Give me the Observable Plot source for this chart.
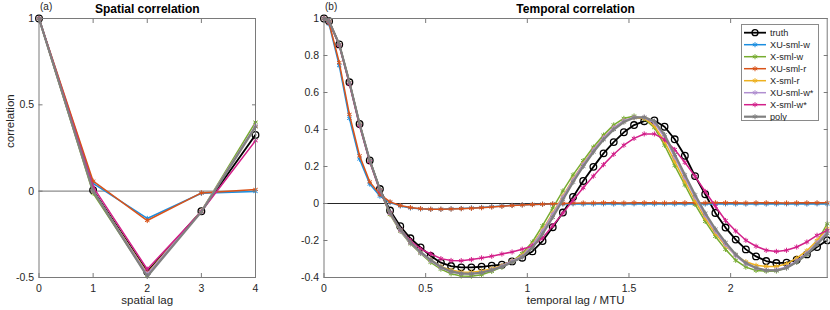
<!DOCTYPE html>
<html><head><meta charset="utf-8">
<script src="https://cdn.jsdelivr.net/npm/d3@7"></script>
<script src="https://cdn.jsdelivr.net/npm/@observablehq/plot@0.6"></script>
<style>
body{margin:0;background:#fff;font-family:"Liberation Sans",Arial,Helvetica,sans-serif;}
#wrap{position:relative;width:830px;height:310px;overflow:hidden;background:#fff}
.panel{position:absolute;top:0}
#legend{position:absolute;left:741px;top:24px;width:78px;height:97px;border:1px solid #8a8a8a;background:#fff;box-sizing:border-box}
</style></head><body><div id="wrap"></div>
<script>
const seriesNames = ["truth","XU-sml-w","X-sml-w","XU-sml-r","X-sml-r","XU-sml-w*","X-sml-w*","poly"];
const seriesColors = ["#000000","#1b8ee0","#77ac30","#d95319","#edb120","#b08fd0","#d3208a","#808080"];
const seriesWidths = [1.8,1.5,1.5,1.5,1.5,1.5,1.5,2.2];

// (a) spatial correlation
const spatialLags = [0,1,2,3,4];
const spatialTruth  = [1, 0.006, -0.467, -0.116, 0.326];
const spatialXUsmlw = [1, 0.045, -0.158, -0.012, -0.002];
const spatialXsmlw  = [1, -0.012, -0.49, -0.115, 0.40];
const spatialXUsmlr = [1, 0.058, -0.17, -0.01, 0.01];
const spatialXsmlr  = [1, 0.0, -0.475, -0.115, 0.375];
const spatialXUsmlwStar = [1, 0.0, -0.48, -0.115, 0.38];
const spatialXsmlwStar  = [1, 0.025, -0.452, -0.118, 0.292];
const spatialPoly   = [1, 0.0, -0.494, -0.12, 0.372];

// (b) temporal correlation
const temporalLags = [0, 0.025, 0.075, 0.125, 0.175, 0.225, 0.275, 0.325, 0.375, 0.425,
  0.475, 0.525, 0.575, 0.625, 0.675, 0.725, 0.775, 0.825, 0.875, 0.925,
  0.975, 1.025, 1.075, 1.125, 1.175, 1.225, 1.275, 1.325, 1.375, 1.425,
  1.475, 1.525, 1.575, 1.625, 1.675, 1.725, 1.775, 1.825, 1.875, 1.925,
  1.975, 2.025, 2.075, 2.125, 2.175, 2.225, 2.275, 2.325, 2.375, 2.425,
  2.475];
const temporalTruth = [1.0, 0.985, 0.86, 0.655, 0.43, 0.233, 0.078, -0.038, -0.123, -0.188,
  -0.237, -0.284, -0.32, -0.338, -0.345, -0.345, -0.342, -0.336, -0.331, -0.313,
  -0.293, -0.259, -0.203, -0.128, -0.049, 0.035, 0.122, 0.198, 0.271, 0.332,
  0.385, 0.424, 0.445, 0.449, 0.415, 0.347, 0.258, 0.148, 0.05, -0.051,
  -0.13, -0.195, -0.248, -0.286, -0.311, -0.322, -0.32, -0.304, -0.275, -0.235,
  -0.199];
const temporalXUsmlw = [1.0, 0.97, 0.745, 0.46, 0.24, 0.105, 0.04, 0.005, -0.013, -0.024,
  -0.029, -0.031, -0.031, -0.029, -0.027, -0.024, -0.021, -0.017, -0.013, -0.01,
  -0.007, -0.005, -0.004, -0.003,
  -0.003, -0.002, -0.003, -0.003, -0.002, -0.003, -0.003, -0.002, -0.003,
  -0.003, -0.002, -0.003, -0.003, -0.002, -0.003, -0.003, -0.002, -0.003,
  -0.003, -0.002, -0.003, -0.003, -0.002, -0.003, -0.003, -0.002, -0.003];
const temporalXsmlw = [1.0, 0.985, 0.86, 0.655, 0.43, 0.232, 0.072, -0.06, -0.15, -0.218,
  -0.27, -0.318, -0.355, -0.38, -0.392, -0.393, -0.385, -0.367, -0.344, -0.313,
  -0.27, -0.208, -0.12, -0.025, 0.068, 0.155, 0.232, 0.305, 0.37, 0.425,
  0.46, 0.473, 0.458, 0.41, 0.315, 0.205, 0.1, -0.005, -0.097, -0.178,
  -0.248, -0.307, -0.344, -0.362, -0.366, -0.365, -0.347, -0.317, -0.275, -0.208,
  -0.11];
const temporalXUsmlr = [1.0, 0.976, 0.762, 0.482, 0.258, 0.117, 0.049, 0.009, -0.011, -0.022,
  -0.028, -0.031, -0.031, -0.03, -0.028, -0.026, -0.023, -0.019, -0.015, -0.011,
  -0.008, -0.006, -0.004, -0.002,
  0.0, 0.002, 0.003, 0.003, 0.004, 0.004, 0.003, 0.004, 0.004,
  0.004, 0.003, 0.004, 0.004, 0.004, 0.003, 0.004, 0.004, 0.004,
  0.003, 0.004, 0.004, 0.004, 0.003, 0.004, 0.004, 0.004, 0.004];
const temporalXsmlr = [1.0, 0.985, 0.86, 0.655, 0.43, 0.232, 0.074, -0.055, -0.145, -0.213,
  -0.265, -0.305, -0.34, -0.36, -0.37, -0.371, -0.365, -0.352, -0.335, -0.31,
  -0.28, -0.222, -0.142, -0.052, 0.04, 0.132, 0.215, 0.292, 0.357, 0.41,
  0.447, 0.464, 0.46, 0.42, 0.335, 0.228, 0.12, 0.015, -0.08, -0.162,
  -0.228, -0.28, -0.315, -0.334, -0.34, -0.34, -0.326, -0.295, -0.255, -0.2,
  -0.135];
const temporalXUsmlwStar = [1.0, 0.985, 0.86, 0.655, 0.43, 0.232, 0.074, -0.055, -0.148, -0.215,
  -0.268, -0.31, -0.348, -0.37, -0.38, -0.38, -0.373, -0.358, -0.338, -0.31,
  -0.285, -0.225, -0.148, -0.058, 0.035, 0.128, 0.212, 0.29, 0.355, 0.41,
  0.448, 0.467, 0.465, 0.435, 0.358, 0.25, 0.14, 0.033, -0.065, -0.15,
  -0.222, -0.283, -0.327, -0.35, -0.36, -0.358, -0.343, -0.31, -0.268, -0.212,
  -0.15];
const temporalXsmlwStar = [1.0, 0.983, 0.855, 0.645, 0.42, 0.225, 0.068, -0.05, -0.14, -0.2,
  -0.246, -0.272, -0.298, -0.308, -0.309, -0.303, -0.294, -0.285, -0.273, -0.262,
  -0.247, -0.229, -0.187, -0.12, -0.052, 0.018, 0.085, 0.148, 0.21, 0.266,
  0.315, 0.352, 0.376, 0.376, 0.345, 0.292, 0.222, 0.147, 0.065, -0.015,
  -0.092, -0.149, -0.199, -0.231, -0.253, -0.259, -0.253, -0.235, -0.208, -0.172,
  -0.145];
const temporalPoly = [1.0, 0.985, 0.86, 0.655, 0.43, 0.233, 0.075, -0.05, -0.14, -0.21,
  -0.262, -0.305, -0.343, -0.367, -0.378, -0.38, -0.374, -0.36, -0.342, -0.318,
  -0.29, -0.24, -0.165, -0.075, 0.02, 0.115, 0.2, 0.278, 0.345, 0.4,
  0.44, 0.463, 0.467, 0.445, 0.372, 0.265, 0.155, 0.047, -0.052, -0.138,
  -0.21, -0.275, -0.322, -0.348, -0.362, -0.362, -0.349, -0.317, -0.275, -0.221,
  -0.163];

const spatialXTicks = [0,1,2,3,4];
const spatialYTicks = [-0.5,0,0.5,1];
const temporalXTicks = [0,0.5,1,1.5,2];
const temporalYTicks = [-0.4,-0.2,0,0.2,0.4,0.6,0.8,1];

const spatialValues = [spatialTruth, spatialXUsmlw, spatialXsmlw, spatialXUsmlr, spatialXsmlr, spatialXUsmlwStar, spatialXsmlwStar, spatialPoly];
const temporalValues = [temporalTruth, temporalXUsmlw, temporalXsmlw, temporalXUsmlr, temporalXsmlr, temporalXUsmlwStar, temporalXsmlwStar, temporalPoly];

const axisGray = "#7a7a7a";
const textColor = "#262626";

function panel(o) {
  const marks = [Plot.ruleY([0], {stroke: o.zeroStroke, strokeWidth: o.zeroWidth})];
  seriesNames.forEach((name, i) => {
    const rows = o.lags.map((lag, j) => ({lag, value: o.values[i][j], series: name}));
    marks.push(Plot.line(rows, {x: "lag", y: "value", stroke: seriesColors[i], strokeWidth: seriesWidths[i]}));
    if (i === 0) {
      marks.push(Plot.dot(rows, {x: "lag", y: "value", r: 3.3, stroke: "#000", fill: "none", strokeWidth: 1.3}));
    } else {
      marks.push(Plot.dot(rows, {x: "lag", y: "value", symbol: "asterisk", r: 2.4, stroke: seriesColors[i], strokeWidth: 1}));
    }
  });
  marks.push(
    Plot.frame({stroke: axisGray, strokeWidth: 1}),
    Plot.axisX(o.xTicks, {anchor: "bottom", tickSize: -4, tickPadding: 11, stroke: axisGray, tickFormat: d => String(d), label: null}),
    Plot.axisX(o.xTicks, {anchor: "top", tickSize: -4, stroke: axisGray, tickFormat: () => "", label: null}),
    Plot.axisY(o.yTicks, {anchor: "left", tickSize: -4, tickPadding: 9, stroke: axisGray, tickFormat: d => String(d), label: null}),
    Plot.axisY(o.yTicks, {anchor: "right", tickSize: -4, stroke: axisGray, tickFormat: () => "", label: null}),
    Plot.text([o.title], {frameAnchor: "top", dy: -9, fontWeight: "bold", fontSize: 12, lineAnchor: "middle", fill: "#000"}),
    Plot.text([o.tag], {frameAnchor: "top-left", dx: 1, dy: -12, fontSize: 10, textAnchor: "start", lineAnchor: "middle", fill: textColor}),
    Plot.text([o.xlabel], {frameAnchor: "bottom", dy: 23, fontSize: 11.5, lineAnchor: "middle", fill: textColor})
  );
  if (o.ylabel) marks.push(Plot.text([o.ylabel], {frameAnchor: "left", dx: -29, rotate: -90, fontSize: 11.5, lineAnchor: "middle", fill: textColor}));
  const svg = Plot.plot({
    width: o.width, height: 310,
    marginLeft: o.marginLeft, marginRight: o.marginRight, marginTop: 18, marginBottom: 33,
    x: {domain: o.xDomain}, y: {domain: o.yDomain},
    style: {fontFamily: "'Liberation Sans', Arial, sans-serif", fontSize: "10.5px", color: textColor, background: "transparent", overflow: "visible"},
    marks
  });
  svg.classList.add("panel");
  svg.style.left = o.left + "px";
  return svg;
}

const wrap = document.getElementById("wrap");
wrap.appendChild(panel({
  left: 0, width: 280, marginLeft: 38.5, marginRight: 25,
  lags: spatialLags, values: spatialValues, xDomain: [0, 4], yDomain: [-0.5, 1],
  xTicks: spatialXTicks, yTicks: spatialYTicks,
  title: "Spatial correlation", tag: "(a)", xlabel: "spatial lag", ylabel: "correlation",
  zeroStroke: "#8c8c8c", zeroWidth: 1.3
}));
wrap.appendChild(panel({
  left: 280, width: 550, marginLeft: 43.5, marginRight: 3.3,
  lags: temporalLags, values: temporalValues, xDomain: [0, 2.475], yDomain: [-0.4, 1],
  xTicks: temporalXTicks, yTicks: temporalYTicks,
  title: "Temporal correlation", tag: "(b)", xlabel: "temporal lag / MTU", ylabel: null,
  zeroStroke: "#262626", zeroWidth: 1
}));

// legend
const legend = document.createElement("div");
legend.id = "legend";
const NS = "http://www.w3.org/2000/svg";
const lsvg = document.createElementNS(NS, "svg");
lsvg.setAttribute("width", 78); lsvg.setAttribute("height", 97);
lsvg.style.position = "absolute"; lsvg.style.left = "-1px"; lsvg.style.top = "-1px";
seriesNames.forEach((name, i) => {
  const y = 8.7 + i * 12;
  const line = document.createElementNS(NS, "line");
  line.setAttribute("x1", 3); line.setAttribute("x2", 25);
  line.setAttribute("y1", y); line.setAttribute("y2", y);
  line.setAttribute("stroke", seriesColors[i]); line.setAttribute("stroke-width", seriesWidths[i]);
  lsvg.appendChild(line);
  if (i === 0) {
    const c = document.createElementNS(NS, "circle");
    c.setAttribute("cx", 14); c.setAttribute("cy", y); c.setAttribute("r", 3);
    c.setAttribute("fill", "none"); c.setAttribute("stroke", "#000"); c.setAttribute("stroke-width", 1.3);
    lsvg.appendChild(c);
  } else {
    const p = document.createElementNS(NS, "path");
    p.setAttribute("d", d3.symbol(d3.symbolAsterisk, 2.4 * 2.4 * Math.PI)());
    p.setAttribute("transform", `translate(14,${y})`);
    p.setAttribute("stroke", seriesColors[i]); p.setAttribute("fill", "none");
    lsvg.appendChild(p);
  }
  const t = document.createElementNS(NS, "text");
  t.setAttribute("x", 29); t.setAttribute("y", y); t.setAttribute("dy", "0.35em");
  t.setAttribute("font-size", "9.2px"); t.setAttribute("fill", textColor);
  t.setAttribute("font-family", "'Liberation Sans', Arial, sans-serif");
  t.textContent = name;
  lsvg.appendChild(t);
});
legend.appendChild(lsvg);
wrap.appendChild(legend);
</script>
</body></html>
